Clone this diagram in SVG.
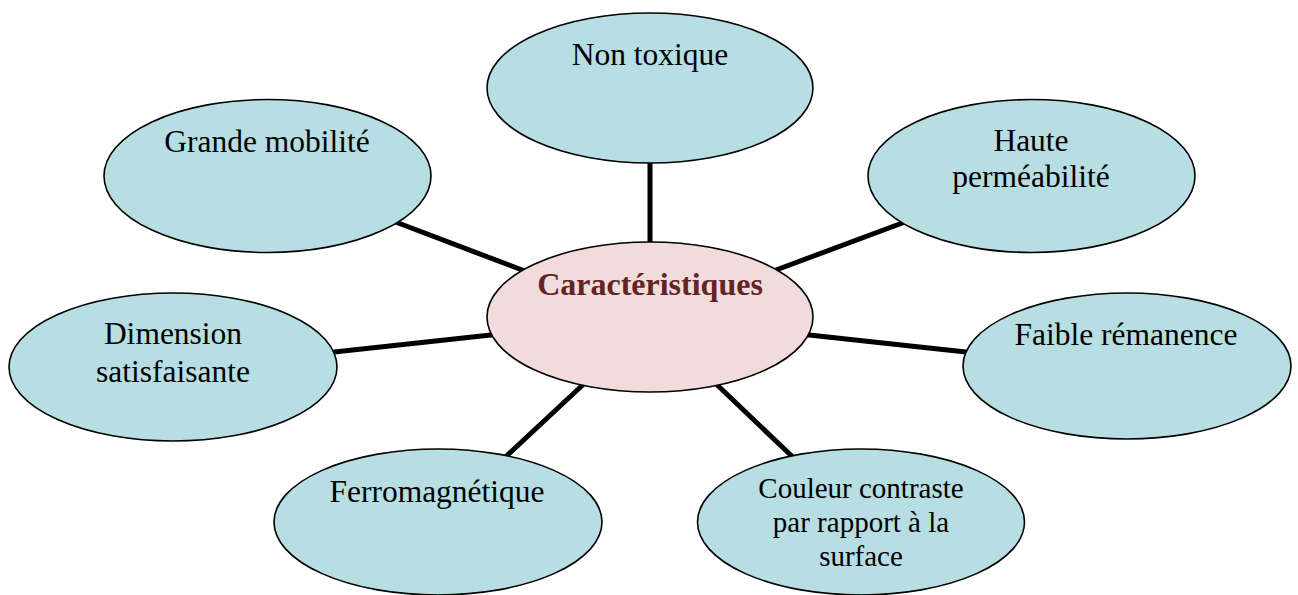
<svg xmlns="http://www.w3.org/2000/svg" width="1298" height="595" viewBox="0 0 1298 595">
<style>
.n{fill:#B7DEE2;stroke:#000;stroke-width:1.6}
.c{fill:#F1DCDB;stroke:#000;stroke-width:1.6}
.t{font-family:"Liberation Serif","Times New Roman",serif;font-size:31.5px;fill:#000;text-anchor:middle}
.s{font-size:29px}
.b{font-weight:bold;fill:#632423;font-size:32px}
.e{stroke:#000;stroke-width:5;fill:none}
</style>
<rect width="1298" height="595" fill="#fff"/>
<g id="connectors">
<line class="e" x1="650" y1="150" x2="650" y2="250"/>
<line class="e" x1="385" y1="218" x2="530" y2="273"/>
<line class="e" x1="913" y1="219" x2="768" y2="273"/>
<line class="e" x1="325" y1="353" x2="500" y2="334"/>
<line class="e" x1="800" y1="334" x2="975" y2="353"/>
<line class="e" x1="500" y1="462" x2="588" y2="380"/>
<line class="e" x1="712" y1="380" x2="798" y2="462"/>
</g>
<g id="non-toxique">
<ellipse class="n" cx="650" cy="88" rx="163" ry="75"/>
<text class="t" x="650" y="65">Non toxique</text>
</g>
<g id="grande-mobilite">
<ellipse class="n" cx="267.5" cy="176" rx="163.5" ry="76.5"/>
<text class="t" x="267" y="152">Grande mobilité</text>
</g>
<g id="haute-permeabilite">
<ellipse class="n" cx="1031.5" cy="176" rx="163.5" ry="76.5"/>
<text class="t" x="1031" y="151">Haute</text>
<text class="t" x="1031" y="187">perméabilité</text>
</g>
<g id="caracteristiques">
<ellipse class="c" cx="650" cy="317" rx="163" ry="75"/>
<text class="t b" x="650" y="295">Caractéristiques</text>
</g>
<g id="dimension">
<ellipse class="n" cx="173" cy="367" rx="164" ry="74"/>
<text class="t" x="173" y="344">Dimension</text>
<text class="t" x="173" y="382">satisfaisante</text>
</g>
<g id="faible-remanence">
<ellipse class="n" cx="1127" cy="366" rx="164" ry="73"/>
<text class="t" x="1126" y="345">Faible rémanence</text>
</g>
<g id="ferromagnetique">
<ellipse class="n" cx="438" cy="522" rx="164" ry="73"/>
<text class="t" x="437" y="502">Ferromagnétique</text>
</g>
<g id="couleur-contraste">
<ellipse class="n" cx="861" cy="522" rx="163.5" ry="73"/>
<text class="t s" x="861" y="498">Couleur contraste</text>
<text class="t s" x="861" y="532">par rapport à la</text>
<text class="t s" x="861" y="566">surface</text>
</g>
</svg>
